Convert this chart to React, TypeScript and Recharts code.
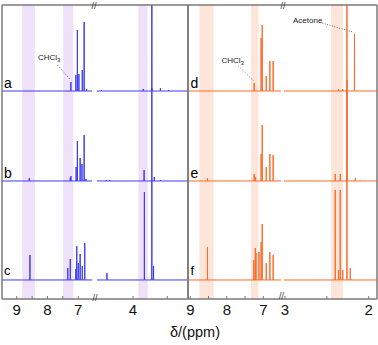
import {
  ComposedChart,
  Line,
  ReferenceArea,
  ReferenceLine,
  XAxis,
  YAxis,
} from "recharts";

// [ppm, intensity] pairs
type Peak = [number, number];

// left panel (blue): a, b, c
const aArom: Peak[] = [[7.24, 9], [7.08, 16], [7.03, 61], [6.98, 17], [6.87, 21], [6.81, 69], [6.73, 2]];
const aAliph: Peak[] = [[4.46, 1], [3.85, 2], [3.725, 3], [3.6, 3], [3.48, 1]];
const bArom: Peak[] = [[8.59, 3], [7.26, 3], [7.24, 5], [7.07, 14], [7.03, 40], [6.94, 23], [6.88, 17], [6.81, 46], [6.75, 2]];
const bAliph: Peak[] = [[4.39, 1], [4.34, 1], [3.838, 11], [3.725, 260], [3.69, 4], [3.6, 1]];
const cArom: Peak[] = [[8.57, 25], [7.34, 12], [7.26, 21], [7.08, 11], [7.05, 34], [7.0, 17], [6.94, 26], [6.87, 14], [6.79, 37]];
const cAliph: Peak[] = [[4.38, 7], [3.834, 88], [3.725, 100], [3.7, 14]];

// right panel (orange): d, e, f
const dArom: Peak[] = [[7.25, 8], [7.06, 53], [7.03, 66], [6.92, 15], [6.82, 30], [6.73, 30]];
const dAliph: Peak[] = [[2.36, 2], [2.31, 2], [2.17, 57]];
const eArom: Peak[] = [[8.53, 3], [7.25, 7], [7.21, 4], [7.06, 27], [7.03, 56], [6.92, 14], [6.82, 27], [6.73, 26]];
const eAliph: Peak[] = [[2.4, 7], [2.34, 7], [2.26, 220], [2.16, 3]];
const fArom: Peak[] = [[8.53, 33], [7.26, 20], [7.22, 32], [7.2, 27], [7.12, 28], [7.06, 38], [7.03, 56], [6.92, 17], [6.82, 28], [6.73, 25]];
const fAliph: Peak[] = [[2.4, 90], [2.36, 10], [2.34, 90], [2.31, 10], [2.26, 200], [2.22, 12]];

const labelsLeft = ["a", "b", "c"];
const labelsRight = ["d", "e", "f"];

// tick values (ppm)
const leftTicksHi = [9, 8.5, 8, 7.5, 7];
const leftTicksLo = [4, 3.5];
const rightTicksHi = [9, 8.5, 8, 7.5, 7];
const rightTicksLo = [3, 2.5, 2];

// highlighted regions (ppm)
const leftBandsHi: [number, number][] = [[8.82, 8.41], [7.49, 7.16]];
const leftBandsLo: [number, number][] = [[3.922, 3.785]];
const rightBandsHi: [number, number][] = [[8.75, 8.36], [7.337, 7.134]];
const rightBandsLo: [number, number][] = [[2.45, 2.31]];

// vertical stacking of the traces
const OFFSETS = [208, 118, 19];

const BLUE = "#3c3cf2";
const ORANGE = "#ff6a2a";
const FRAME = "#7a7a7a";
const FONT = "'Liberation Sans', Arial, sans-serif";
const TINY = 0.01; // axes with zero size are not drawn

function buildTrace(peaks: Peak[], from: number, to: number, base: number) {
  const w = 0.0015;
  const pts = [{ x: from, y: base }];
  [...peaks]
    .sort((p, q) => q[0] - p[0])
    .forEach(([p, h]) => {
      pts.push({ x: p + w, y: base }, { x: p, y: base + h }, { x: p - w, y: base });
    });
  pts.push({ x: to, y: base });
  return pts;
}

const fmt = (v: number) => (Number.isInteger(v) ? String(v) : "");

interface PanelProps {
  left: number;
  width: number;
  domHi: [number, number];
  domLo: [number, number];
  segHi: [number, number];
  segLo: [number, number];
  ticksHi: number[];
  ticksLo: number[];
  bandsHi: [number, number][];
  bandsLo: [number, number][];
  bandColor: string;
  color: string;
  traces: [Peak[], Peak[]][];
  leaders: { axis: string; seg: [number, number, number, number] }[];
}

function Panel(p: PanelProps) {
  const axisProps = {
    type: "number" as const,
    dataKey: "x",
    reversed: true,
    allowDataOverflow: true,
    interval: 0 as const,
    height: TINY,
    tickSize: -3,
    tickMargin: 8,
    tickFormatter: fmt,
    tickLine: { stroke: FRAME },
  };
  const frameLine = { stroke: FRAME, strokeWidth: 1.5 };
  const tickStyle = { fill: "#111", fontSize: 15, fontFamily: FONT };
  return (
    <div style={{ position: "absolute", left: p.left, top: 0 }}>
      <ComposedChart
        width={p.width}
        height={345}
        margin={{ top: 5, right: 2, bottom: 46, left: 2 }}
      >
        <XAxis {...axisProps} xAxisId="H" domain={p.domHi} ticks={p.ticksHi} tick={tickStyle} axisLine={frameLine} />
        <XAxis {...axisProps} xAxisId="L" domain={p.domLo} ticks={p.ticksLo} tick={tickStyle} axisLine={false} />
        <XAxis {...axisProps} xAxisId="Ht" orientation="top" domain={p.domHi} ticks={p.ticksHi} tick={false} axisLine={frameLine} />
        <XAxis {...axisProps} xAxisId="Lt" orientation="top" domain={p.domLo} ticks={p.ticksLo} tick={false} axisLine={false} />
        <YAxis yAxisId="y" type="number" domain={[0, 294]} allowDataOverflow width={TINY} tick={false} tickLine={false} axisLine={frameLine} />
        <YAxis yAxisId="yr" orientation="right" type="number" domain={[0, 294]} allowDataOverflow width={TINY} tick={false} tickLine={false} axisLine={frameLine} />

        {p.bandsHi.map(([x1, x2], i) => (
          <ReferenceArea key={"bh" + i} xAxisId="H" yAxisId="y" x1={x1} x2={x2} fill={p.bandColor} fillOpacity={1} stroke="none" />
        ))}
        {p.bandsLo.map(([x1, x2], i) => (
          <ReferenceArea key={"bl" + i} xAxisId="L" yAxisId="y" x1={x1} x2={x2} fill={p.bandColor} fillOpacity={1} stroke="none" />
        ))}

        {p.leaders.map((l, i) => (
          <ReferenceLine
            key={"ld" + i}
            xAxisId={l.axis}
            yAxisId="y"
            segment={[
              { x: l.seg[0], y: l.seg[1] },
              { x: l.seg[2], y: l.seg[3] },
            ]}
            stroke="#777"
            strokeDasharray="1 1.5"
          />
        ))}

        {p.traces.map(([hi, lo], i) => [
          <Line
            key={"h" + i}
            xAxisId="H"
            yAxisId="y"
            data={buildTrace(hi, p.segHi[0], p.segHi[1], OFFSETS[i])}
            dataKey="y"
            type="linear"
            stroke={p.color}
            strokeWidth={1}
            dot={false}
            activeDot={false}
            isAnimationActive={false}
          />,
          <Line
            key={"l" + i}
            xAxisId="L"
            yAxisId="y"
            data={buildTrace(lo, p.segLo[0], p.segLo[1], OFFSETS[i])}
            dataKey="y"
            type="linear"
            stroke={p.color}
            strokeWidth={1}
            dot={false}
            activeDot={false}
            isAnimationActive={false}
          />,
        ])}
      </ComposedChart>
    </div>
  );
}

export default function App() {
  const letterY = [88, 178, 275];
  return (
    <div style={{ position: "fixed", left: 0, top: 0, width: 378, height: 345, background: "#fff" }}>
      <Panel
        left={0}
        width={190}
        domHi={[3.438, 9.477]}
        domLo={[3.198, 5.91]}
        segHi={[9.477, 6.55]}
        segLo={[4.525, 3.198]}
        ticksHi={leftTicksHi}
        ticksLo={leftTicksLo}
        bandsHi={leftBandsHi}
        bandsLo={leftBandsLo}
        bandColor="#efe1f9"
        color={BLUE}
        traces={[[aArom, aAliph], [bArom, bAliph], [cArom, cAliph]]}
        leaders={[{ axis: "H", seg: [7.675, 234, 7.25, 219] }]}
      />
      <Panel
        left={186}
        width={193}
        domHi={[3.885, 9.063]}
        domLo={[1.901, 4.159]}
        segHi={[9.063, 6.515]}
        segLo={[3.012, 1.901]}
        ticksHi={rightTicksHi}
        ticksLo={rightTicksLo}
        bandsHi={rightBandsHi}
        bandsLo={rightBandsLo}
        bandColor="#fde5d9"
        color={ORANGE}
        traces={[[dArom, dAliph], [eArom, eAliph], [fArom, fAliph]]}
        leaders={[
          { axis: "H", seg: [7.685, 233, 7.26, 218] },
          { axis: "L", seg: [2.554, 276, 2.19, 267] },
        ]}
      />
      <svg
        width={378}
        height={345}
        style={{ position: "absolute", left: 0, top: 0, pointerEvents: "none" }}
        fontFamily={FONT}
      >
        {labelsLeft.map((t, i) => (
          <text key={t} x={4} y={letterY[i]} fontSize={i === 2 ? 13 : 14} fill="#000">{t}</text>
        ))}
        {labelsRight.map((t, i) => (
          <text key={t} x={190.5} y={letterY[i]} fontSize={i === 2 ? 13 : 14} fill="#000">{t}</text>
        ))}
        <text x={38} y={60} fontSize={8} fill="#222">
          CHCl<tspan fontSize={6} dy={2}>3</tspan>
        </text>
        <text x={221.5} y={63} fontSize={8} fill="#222">
          CHCl<tspan fontSize={6} dy={2}>3</tspan>
        </text>
        <text x={293} y={22.5} fontSize={8} fill="#222">Acetone</text>
        {[[94, 8.5], [95, 300.5], [283, 8.5], [281.5, 299]].map(([x, y], i) => (
          <text key={i} x={x} y={y} fontSize={9} textAnchor="middle" fill="#333">//</text>
        ))}
        <text x={195} y={337} fontSize={14.5} textAnchor="middle" fill="#111">δ/(ppm)</text>
      </svg>
    </div>
  );
}
